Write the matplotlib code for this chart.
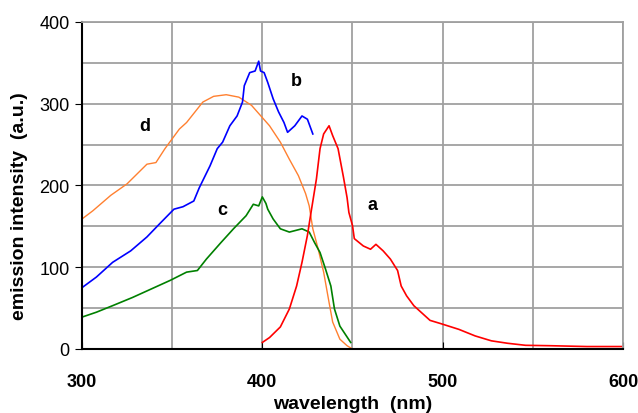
import matplotlib.pyplot as plt

# curve a (red)
xa = [400, 404, 410, 415, 419, 422, 425, 427, 430, 432, 434, 437, 439, 442, 445, 447,
      448, 450, 451, 456, 460, 463, 467, 471, 475, 477, 480, 484, 488, 493, 499, 509,
      518, 527, 536, 546, 560, 580, 600]
ya = [8, 14, 27, 49, 77, 106, 139, 167, 208, 245, 263, 273, 261, 245, 210, 185,
      167, 151, 135, 126, 122, 128, 120, 110, 96, 77, 65, 53, 45, 35, 31, 24,
      16, 10, 7, 4.5, 4, 3, 3]

# curve b (blue)
xb = [300, 308, 317, 327, 336, 343, 351, 356, 362, 365, 371, 375, 378, 382, 386, 389,
      390, 393, 396, 398, 399, 401, 403, 406, 409, 412, 414, 418, 422, 425, 428]
yb = [75, 88, 106, 120, 137, 153, 171, 174, 181, 197, 224, 245, 253, 273, 285, 302,
      322, 338, 340, 352, 340, 338, 326, 306, 290, 277, 265, 273, 285, 281, 263]

# curve c (green)
xc = [300, 308, 317, 328, 340, 349, 358, 364, 369, 377, 384, 391, 395, 398, 400, 402,
      403, 406, 410, 415, 422, 426, 429, 432, 435, 438, 440, 443, 449]
yc = [39, 45, 53, 63, 75, 84, 94, 96, 110, 130, 147, 163, 177, 175, 186, 178,
      171, 159, 147, 143, 147, 143, 130, 118, 98, 77, 49, 28, 8]

# curve d (orange)
xd = [300, 306, 316, 325, 336, 341, 346, 354, 358, 367, 373, 380, 387, 394, 400, 404,
      410, 415, 420, 424, 426, 428, 431, 434, 437, 439, 443, 447, 450]
yd = [159, 169, 188, 202, 226, 228, 245, 269, 277, 302, 309, 311, 308, 298, 283, 273,
      253, 232, 212, 190, 175, 147, 122, 94, 57, 33, 12, 4, 0]

labels = ["a", "b", "c", "d"]
label_pos = [(461, 177), (419, 328), (378, 171), (335, 273)]

fig = plt.figure(figsize=(6.38, 4.14), dpi=100)
ax = fig.add_axes([0.1285, 0.1546, 0.848, 0.79])

ax.plot(xd, yd, color="#ff8030", lw=1.0)
ax.plot(xb, yb, color="#0000ff", lw=1.2)
ax.plot(xc, yc, color="#008000", lw=1.2)
ax.plot(xa, ya, color="#ff0000", lw=1.2)

for t, (x, y) in zip(labels, label_pos):
    ax.text(x, y, t, fontsize=13, fontweight="bold", ha="center", va="center",
            family="Liberation Sans")

ax.set_xlim(300, 600)
ax.set_ylim(0, 400)
ax.set_xticks([300, 400, 500, 600])
ax.set_xticks(range(350, 600, 50), minor=True)
ax.set_yticks(range(0, 401, 100))
ax.set_yticks(range(50, 400, 100), minor=True)
ax.grid(True, which="both", color="#a0a0a0", lw=1.3)
ax.set_axisbelow(True)

ax.tick_params(axis="x", which="major", direction="in", length=5, pad=17)
ax.tick_params(axis="x", which="minor", length=0)
ax.tick_params(axis="y", which="major", direction="out", length=5, pad=4)
ax.tick_params(axis="y", which="minor", length=0)

for lab in ax.get_xticklabels():
    lab.set_fontfamily(["Liberation Sans Narrow", "Liberation Sans"])
    lab.set_fontweight("bold")
    lab.set_fontsize(13)
for lab in ax.get_yticklabels():
    lab.set_fontfamily("Liberation Sans")
    lab.set_fontsize(13)

for s in ["left", "bottom"]:
    ax.spines[s].set_color("black")
    ax.spines[s].set_linewidth(1.5)
for s in ["top", "right"]:
    ax.spines[s].set_color("#a0a0a0")
    ax.spines[s].set_linewidth(1.3)

ax.set_xlabel("wavelength  (nm)", fontsize=14, fontweight="bold",
              family="Liberation Sans")
ax.xaxis.set_label_coords(0.5, -0.14)
ax.set_ylabel("emission intensity  (a.u.)", fontsize=14, fontweight="bold",
              family="Liberation Sans")
ax.yaxis.set_label_coords(-0.10, 0.44)

fig.savefig("out.png", dpi=100)
